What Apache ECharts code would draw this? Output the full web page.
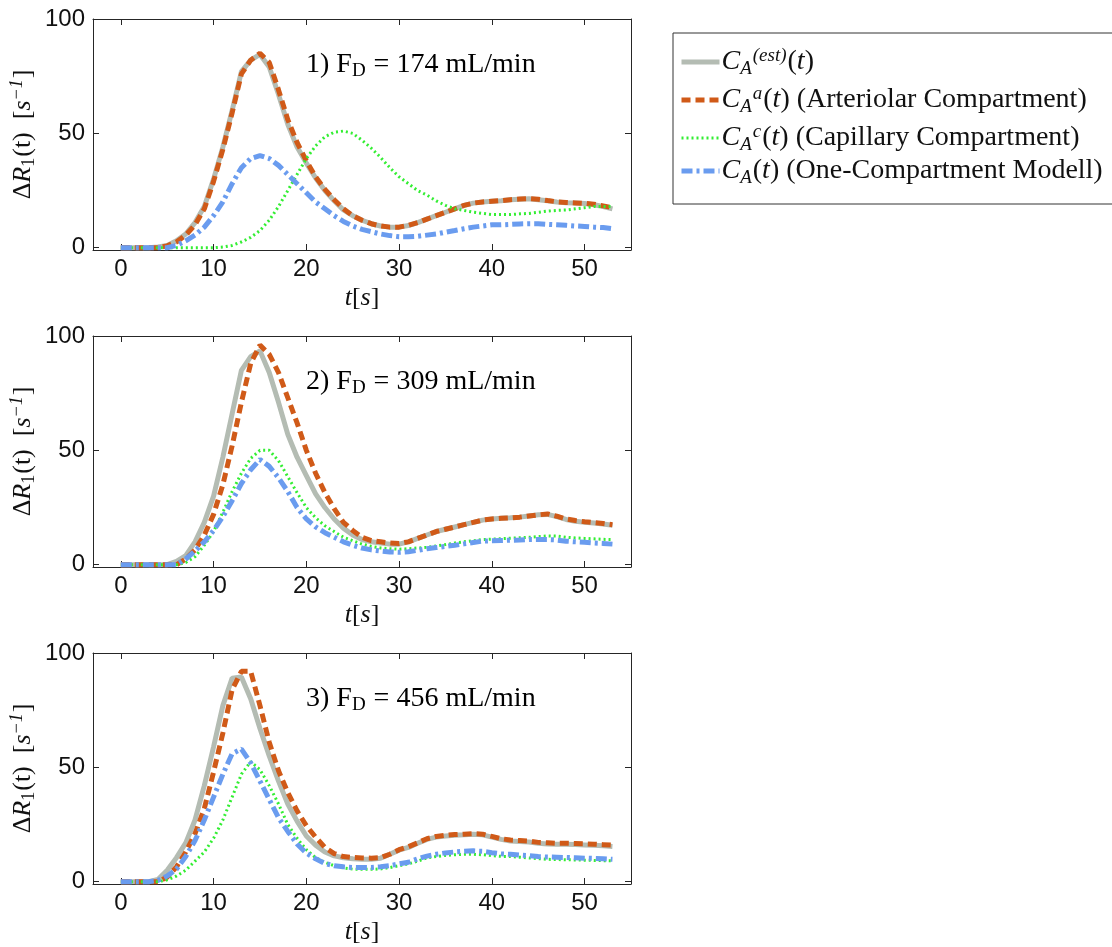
<!DOCTYPE html>
<html>
<head>
<meta charset="utf-8">
<script src="https://cdn.jsdelivr.net/npm/echarts@6/dist/echarts.min.js"></script>
<style>
html, body { margin: 0; padding: 0; background: #fff; }
#main { width: 1112px; height: 947px; }
</style>
</head>
<body>
<div id="main"></div>
<script>
// time axis (s)
const t = [0,1,2,3,4,5,6,7,8,9,10,11,12,13,14,15,16,17,18,19,20,21,22,23,24,25,26,
  27,28,29,30,31,32,33,34,35,36,37,38,39,40,41,42,43,44,45,46,47,48,49,50,51,52,53];

// panel 1, F_D = 174 mL/min
const est1 = [0,0,0,0,0.3,1,3,6,11,18,30,44,60,77,82,84.5,79,67,54,44,37,30.5,25,20.5,16.5,14,12,10.5,9.5,9,
  9,9.7,11,12.5,14,15.5,17,18.5,19.5,20,20.3,20.5,21,21.2,21.4,21,20.5,20,19.7,19.5,19.3,18.8,18,17];
const art1 = [0,0,0,0,0,0.8,2.5,5.5,10,17,29,43,59,76,82,85,81,69,56,46,38,31,25.5,21,17,14,12,10.5,9.5,9,
  9,9.8,11,12.5,14,15.5,17,18.5,19.5,20,20.3,20.6,21,21.3,21.5,21.2,20.6,20.1,19.8,19.6,19.4,19,18.3,17.5];
const cap1 = [0,0,0,0,0,0,0,0,0,0,0,0.3,1,2.5,4.5,7.5,12,18,25,32,39,44.5,48.5,50.5,51,50,47,43.5,39.5,35,
  31,28,25,23,20.5,18.5,17,16.3,15.5,15,14.5,14.5,14.5,14.8,15,15.5,16,16.3,16.5,17,17.5,18,18,18];
const one1 = [0,0,0,0,0,0,1,3,5.5,9,14,20,28,35,39,40.3,39,36,32,28,24,20,17,14,11.5,9.5,8,7,6,5.3,
  4.8,4.8,5,5.5,6,6.8,7.5,8.3,9,9.5,10,10,10.2,10.4,10.5,10.5,10.2,10,9.8,9.5,9.3,9,8.8,8.3];

// panel 2, F_D = 309 mL/min
const est2 = [0,0,0,0,0,0,1.5,4,10,18.5,30,47,66,85,91,93.5,84,71,57,47,39,31,25,20,16,13,11,10,9.5,9,
  9,10,11.5,13,14.5,15.5,16.5,17.5,18.5,19.5,20,20.3,20.5,20.8,21.3,21.8,22,21,19.8,19,18.6,18.2,17.8,17.3];
const art2 = [0,0,0,0,0,0,0,2.5,6.5,13,22,35,52,71,88,96,92,84,73,62,50,40,31.5,24.5,18.5,15,12,10.5,10,9.5,
  9.3,10,11.5,13,14.5,15.5,16.5,17.5,18.5,19.5,20,20.3,20.5,20.8,21.3,21.8,22.2,21.2,20,19.3,18.8,18.4,18,17.5];
const cap2 = [0,0,0,0,0,0,0,1,3.5,8.5,14.5,23,32,40,46.5,50,50,45.5,38.5,31.5,25,20.5,17,14.5,12,10.5,9,8,7.3,7,
  6.8,7,7.3,7.6,8.2,8.8,9.5,10,10.5,11,11.2,11.4,11.6,11.8,12,12.3,12.6,12.5,12,11.7,11.5,11.3,11.1,11];
const one2 = [0,0,0,0,0,0,0,2.5,6,10,15,21,28,35.5,41.5,46,43,38,32,25,20,16.5,14,12,10,8.5,7.3,6.5,6,5.6,
  5.4,5.7,6.3,7,7.5,8,8.5,9.1,9.7,10.3,10.5,10.6,10.7,10.8,11,11,11,10.8,10.3,10,9.8,9.5,9.3,9];

// panel 3, F_D = 456 mL/min
const est3 = [0,0,0,0,1,5,10.5,17,27,42,59,77,89,89.5,80,67,55,44,34,26.5,20,16,13,11.3,10.5,10,9.8,9.8,10.3,12,
  13.8,15,16.8,18.5,19.5,20,20.3,20.5,20.8,20.5,19.5,18.5,17.8,17.6,17.4,16.8,16.5,16.4,16.4,16.3,16.1,15.9,15.7,15.4];
const art3 = [0,0,0,0,0,2,6.5,13,21,32,48,65,84,92,92,77,61,48.5,39,31,24.5,19.5,15,12.3,11,10.6,10.4,10.3,10.5,12,
  14,15.3,17,18.8,19.8,20.3,20.6,20.8,21,20.8,19.8,18.8,18.2,18,17.8,17.2,17,16.8,16.8,16.7,16.6,16.4,16.2,16];
const cap3 = [0,0,0,0,0,0.8,2.5,5,9,13,19,27,37,47,52.5,49,42,34,25,19,14,10.5,8.5,7,6,5.5,5.4,5.4,5.6,6.2,
  7,7.8,9,10.4,11,11.5,11.8,12,12,11.8,11.4,11.1,11,10.7,10.4,10.1,9.8,9.7,9.6,9.5,9.4,9.3,9.2,9.1];
const one3 = [0,0,0,0,0.5,2.5,5.5,11,18,27,37,47,56,58,52,44,36,28,22,16.5,12.5,10,8,7,6.5,6.2,6.2,6.2,6.5,7,
  7.8,8.5,10,11.2,12,12.6,13,13.3,13.5,13.3,12.7,12.2,12,11.7,11.4,11,10.8,10.7,10.6,10.5,10.3,10.2,10,9.8];

const flows = ['174', '309', '456'];
const xTicks = [0, 10, 20, 30, 40, 50];
const yTicks = [0, 50, 100];
const seriesNames = ['est', 'art', 'cap', 'one'];
const panels = [[est1, art1, cap1, one1], [est2, art2, cap2, one2], [est3, art3, cap3, one3]];

const serif = 'Liberation Serif';
const sans = 'Liberation Sans';
const axisColor = '#262626';

function makeRich(size, lh) {
  const small = Math.round(size * 0.68);
  return {
    n: { fontFamily: serif, fontSize: size, color: '#111', lineHeight: lh },
    i: { fontFamily: serif, fontSize: size, fontStyle: 'italic', color: '#111', lineHeight: lh },
    sub: { fontFamily: serif, fontSize: small, color: '#111', verticalAlign: 'bottom', lineHeight: small, padding: [0, 1, 3, 0] },
    subi: { fontFamily: serif, fontSize: small, fontStyle: 'italic', color: '#111', verticalAlign: 'bottom', lineHeight: small, padding: [0, 1, 3, 0] },
    sup: { fontFamily: serif, fontSize: small, fontStyle: 'italic', color: '#111', verticalAlign: 'top', lineHeight: small, padding: [3, 1, 0, 0] }
  };
}
const richText = makeRich(28, 38);
const richAxis = makeRich(26, 36);

const styles = {
  est: { color: '#b4bcb3', width: 5, type: 'solid' },
  art: { color: '#d05a18', width: 5, type: [9, 5] },
  cap: { color: '#33ee33', width: 3, type: [2, 3] },
  one: { color: '#6a9cef', width: 5, type: [11, 4, 3, 4] }
};

const legendText = {
  est: '{i|C}{subi|A}{sup|(est)}{n|(}{i|t}{n|)}',
  art: '{i|C}{subi|A}{sup|a}{n|(}{i|t}{n|) (Arteriolar Compartment)}',
  cap: '{i|C}{subi|A}{sup|c}{n|(}{i|t}{n|) (Capillary Compartment)}',
  one: '{i|C}{subi|A}{n|(}{i|t}{n|) (One-Compartment Modell)}'
};

const tops = [19, 336, 653];
const grids = [], xAxes = [], yAxes = [], series = [], graphics = [];

tops.forEach((top, p) => {
  grids.push({ left: 93, top: top, width: 538, height: 231 });
  // bottom / left axes with labels
  xAxes.push({
    type: 'value', gridIndex: p, min: -3, max: 55, position: 'bottom',
    name: '{i|t}{n|[}{i|s}{n|]}', nameLocation: 'middle', nameGap: 30,
    nameTextStyle: { rich: richAxis },
    axisLine: { onZero: false, lineStyle: { color: axisColor, width: 1 } },
    axisTick: { inside: true, length: 6, customValues: xTicks, lineStyle: { color: axisColor } },
    axisLabel: { customValues: xTicks, fontFamily: sans, fontSize: 24, color: '#111', margin: 7 },
    splitLine: { show: false }
  });
  xAxes.push({
    type: 'value', gridIndex: p, min: -3, max: 55, position: 'top',
    axisLine: { onZero: false, lineStyle: { color: axisColor, width: 1 } },
    axisTick: { inside: true, length: 6, customValues: xTicks, lineStyle: { color: axisColor } },
    axisLabel: { show: false }, splitLine: { show: false }
  });
  yAxes.push({
    type: 'value', gridIndex: p, min: -1, max: 100, position: 'left',
    name: '{n|Δ}{i|R}{sub|1}{n|(t)  [}{i|s}{sup|−1}{n|]}', nameLocation: 'middle', nameGap: 42,
    nameTextStyle: { rich: richAxis },
    axisLine: { show: true, onZero: false, lineStyle: { color: axisColor, width: 1 } },
    axisTick: { show: true, inside: true, length: 6, customValues: yTicks, lineStyle: { color: axisColor } },
    axisLabel: { customValues: yTicks, fontFamily: sans, fontSize: 24, color: '#111', margin: 8 },
    splitLine: { show: false }
  });
  yAxes.push({
    type: 'value', gridIndex: p, min: -1, max: 100, position: 'right',
    axisLine: { show: true, onZero: false, lineStyle: { color: axisColor, width: 1 } },
    axisTick: { show: true, inside: true, length: 6, customValues: yTicks, lineStyle: { color: axisColor } },
    axisLabel: { show: false }, splitLine: { show: false }
  });

  panels[p].forEach((vals, k) => {
    const name = seriesNames[k];
    series.push({
      name: name, type: 'line', xAxisIndex: p * 2, yAxisIndex: p * 2,
      data: t.map((tt, j) => [tt, vals[j]]),
      showSymbol: false, symbol: 'none', smooth: false,
      lineStyle: styles[name], itemStyle: { color: styles[name].color }, z: 2 + k,
      emphasis: { disabled: true }
    });
  });

  graphics.push({
    type: 'text', x: 306, y: top + 46,
    style: {
      text: '{n|' + (p + 1) + ') F}{sub|D}{n| = ' + flows[p] + ' mL/min}',
      rich: richText, verticalAlign: 'middle'
    }
  });
});

const chart = echarts.init(document.getElementById('main'));
chart.setOption({
  animation: false,
  backgroundColor: '#fff',
  grid: grids,
  xAxis: xAxes,
  yAxis: yAxes,
  legend: {
    orient: 'vertical', left: 673, top: 33,
    data: seriesNames,
    itemWidth: 38, itemHeight: 14, itemGap: 0,
    padding: [10, 12, 14, 6],
    borderColor: '#333', borderWidth: 1,
    formatter: name => legendText[name],
    textStyle: { rich: richText, padding: [0, 0, 0, -3] },
    itemStyle: { opacity: 0 },
    lineStyle: { type: 'inherit', width: 'inherit' }
  },
  graphic: graphics,
  series: series
});
</script>
</body>
</html>
